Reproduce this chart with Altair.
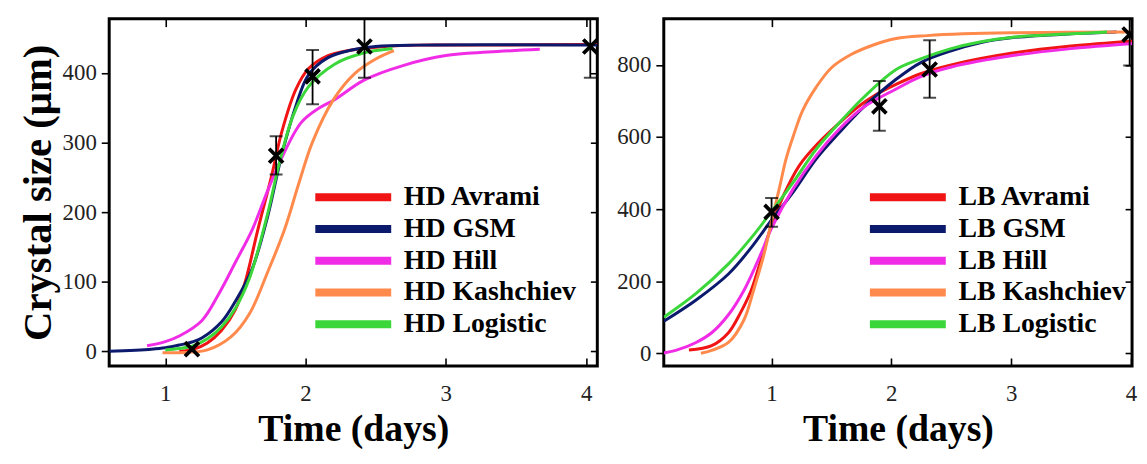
import altair as alt
import pandas as pd

FONT = "Liberation Serif"

# ---------------- common ----------------
x_ticks = [1, 2, 3, 4]
colors = ["#f01414", "#0c1a6e", "#f02ce6", "#ff8a4c", "#3ad63a"]

# ---------------- HD panel ----------------
hd_series = ["HD Avrami", "HD GSM", "HD Hill", "HD Kashchiev", "HD Logistic"]
hd_y_ticks = [0, 100, 200, 300, 400]

hd_avrami_x = [1.10, 1.20, 1.30, 1.40, 1.50, 1.57, 1.66, 1.76, 1.83, 1.93, 2.02, 2.16, 2.33, 2.50, 2.80, 3.20, 4.08]
hd_avrami_y = [0, 3, 12, 30, 60, 100, 175, 254, 315, 376, 406, 425, 433, 437, 440, 440, 441]

hd_gsm_x = [0.60, 0.90, 1.00, 1.10, 1.20, 1.26, 1.40, 1.50, 1.62, 1.73, 1.83, 1.93, 2.02, 2.16, 2.33, 2.50, 2.80, 4.08]
hd_gsm_y = [0, 3, 5, 9, 14, 19, 42, 72, 119, 194, 282, 352, 397, 422, 433, 438, 440, 440]

hd_hill_x = [0.87, 1.00, 1.10, 1.26, 1.38, 1.50, 1.62, 1.73, 1.83, 1.97, 2.10, 2.21, 2.42, 2.70, 3.00, 3.30, 3.67]
hd_hill_y = [8, 14, 22, 44, 82, 128, 175, 231, 278, 329, 350, 362, 390, 411, 425, 430, 434]

hd_kash_x = [0.98, 1.10, 1.30, 1.47, 1.60, 1.73, 1.85, 1.95, 2.05, 2.20, 2.35, 2.50, 2.63]
hd_kash_y = [-2, -2, 2, 21, 54, 114, 175, 240, 301, 362, 399, 420, 432]

hd_logi_x = [1.00, 1.10, 1.20, 1.30, 1.40, 1.50, 1.60, 1.73, 1.81, 1.91, 2.02, 2.21, 2.40, 2.62]
hd_logi_y = [2, 4, 8, 18, 35, 62, 105, 198, 268, 338, 380, 413, 428, 435]

hd_pts_x = [1.19, 1.79, 2.05, 2.42, 4.03]
hd_pts_y = [3, 281, 395, 438, 438]
hd_pts_lo = [3, 254, 355, 393, 393]
hd_pts_hi = [3, 309, 433, 483, 483]

# ---------------- LB panel ----------------
lb_series = ["LB Avrami", "LB GSM", "LB Hill", "LB Kashchiev", "LB Logistic"]
lb_y_ticks = [0, 200, 400, 600, 800]

lb_avrami_x = [0.31, 0.50, 0.64, 0.74, 0.83, 0.91, 1.00, 1.10, 1.23, 1.39, 1.56, 1.72, 1.88, 2.04, 2.25, 2.50, 3.00, 3.50, 4.05]
lb_avrami_y = [9, 21, 57, 112, 175, 257, 356, 438, 520, 583, 637, 683, 719, 746, 776, 800, 832, 852, 867]

lb_gsm_x = [0.10, 0.37, 0.64, 0.83, 1.00, 1.18, 1.37, 1.56, 1.77, 2.04, 2.25, 2.50, 2.75, 3.00, 3.50, 3.88]
lb_gsm_y = [89, 148, 220, 293, 370, 447, 538, 610, 683, 760, 807, 839, 862, 875, 886, 891]

lb_hill_x = [0.10, 0.20, 0.37, 0.50, 0.64, 0.77, 0.91, 1.00, 1.18, 1.37, 1.56, 1.77, 2.04, 2.25, 2.50, 3.00, 3.50, 4.05]
lb_hill_y = [1, 8, 30, 57, 107, 175, 275, 347, 456, 547, 620, 683, 733, 768, 794, 825, 845, 860]

lb_kash_x = [0.41, 0.50, 0.64, 0.77, 0.85, 0.93, 1.00, 1.07, 1.12, 1.18, 1.26, 1.37, 1.50, 1.66, 1.85, 2.04, 2.30, 2.60, 3.00, 4.05]
lb_kash_y = [0, 8, 30, 93, 175, 266, 366, 465, 538, 601, 674, 737, 792, 828, 855, 873, 881, 886, 889, 891]

lb_logi_x = [0.10, 0.37, 0.64, 0.83, 1.00, 1.18, 1.37, 1.56, 1.77, 2.04, 2.25, 2.50, 2.75, 3.00, 3.50, 3.80]
lb_logi_y = [100, 166, 248, 320, 393, 474, 565, 637, 710, 787, 817, 845, 864, 876, 886, 891]

lb_pts_x = [1.00, 1.90, 2.32, 3.99]
lb_pts_y = [392, 685, 787, 884]
lb_pts_lo = [351, 617, 709, 798]
lb_pts_hi = [431, 755, 868, 975]


def curves_df(names, xs_list, ys_list):
    rows = []
    for n, xs, ys in zip(names, xs_list, ys_list):
        for i, (a, b) in enumerate(zip(xs, ys)):
            rows.append({"series": n, "x": a, "y": b, "i": i})
    return pd.DataFrame(rows)


def panel(names, xs_list, ys_list, px, py, plo, phi, xdom, ydom, yticks,
          width, height, ytitle):
    cdf = curves_df(names, xs_list, ys_list)
    pdf = pd.DataFrame({"x": px, "y": py, "lo": plo, "hi": phi})
    edf = pdf[pdf["hi"] > pdf["lo"]]

    xs = alt.Scale(domain=xdom, nice=False, zero=False)
    ys = alt.Scale(domain=ydom, nice=False, zero=False)

    x_bottom = alt.Axis(orient="bottom", values=x_ticks, format="d", domain=False,
                        grid=False, tickSize=8, offset=-8, labelPadding=17,
                        title="Time (days)", titlePadding=5)
    x_top = alt.Axis(orient="top", values=x_ticks, domain=False, grid=False,
                     tickSize=8, offset=-8, labels=False, title=None)
    y_left_kw = dict(orient="left", values=yticks, domain=False, grid=False,
                     tickSize=8, labelPadding=5, titlePadding=3,
                     titleFontSize=41)
    if ytitle:
        y_left = alt.Axis(title=ytitle, **y_left_kw)
    else:
        y_left = alt.Axis(title=None, **y_left_kw)
    y_right = alt.Axis(orient="right", values=yticks, domain=False, grid=False,
                       tickSize=7, offset=-7, labels=False, title=None)

    legend = alt.Legend(orient="none", legendX=232, legendY=166, title=None,
                        symbolType="M-5.1,0H5.1", symbolSize=225,
                        symbolStrokeWidth=8, labelFont=FONT, labelFontSize=28,
                        labelFontWeight="bold", labelColor="black",
                        labelOffset=37, rowPadding=0, padding=0, labelLimit=400)

    lines = alt.Chart(cdf).mark_line(strokeWidth=3, clip=True,
                                     interpolate="catmull-rom").encode(
        x=alt.X("x:Q", scale=xs, axis=x_bottom),
        y=alt.Y("y:Q", scale=ys, axis=y_left),
        color=alt.Color("series:N", sort=names,
                        scale=alt.Scale(domain=names, range=colors),
                        legend=legend),
        order="i:Q",
    )

    bars = alt.Chart(edf).mark_rule(color="black", strokeWidth=1.8, clip=True).encode(
        x=alt.X("x:Q", scale=xs, axis=None),
        y=alt.Y("lo:Q", scale=ys, axis=None),
        y2="hi:Q",
    )
    cap_lo = alt.Chart(edf).mark_tick(color="black", orient="horizontal", size=13,
                                      thickness=2, clip=True).encode(
        x=alt.X("x:Q", scale=xs, axis=None),
        y=alt.Y("lo:Q", scale=ys, axis=None),
    )
    cap_hi = alt.Chart(edf).mark_tick(color="black", orient="horizontal", size=13,
                                      thickness=2, clip=True).encode(
        x=alt.X("x:Q", scale=xs, axis=None),
        y=alt.Y("hi:Q", scale=ys, axis=None),
    )
    marks = alt.Chart(pdf).mark_point(shape="M-1,-1L1,1M-1,1L1,-1", size=200,
                                      strokeWidth=3.8, color="black",
                                      filled=False, opacity=1, clip=True).encode(
        x=alt.X("x:Q", scale=xs, axis=x_top),
        y=alt.Y("y:Q", scale=ys, axis=y_right),
    )

    return alt.layer(lines, bars, cap_lo, cap_hi, marks).resolve_axis(
        x="independent", y="independent"
    ).properties(width=width, height=height)


left = panel(hd_series,
             [hd_avrami_x, hd_gsm_x, hd_hill_x, hd_kash_x, hd_logi_x],
             [hd_avrami_y, hd_gsm_y, hd_hill_y, hd_kash_y, hd_logi_y],
             hd_pts_x, hd_pts_y, hd_pts_lo, hd_pts_hi,
             [0.6, 4.08], [-21, 478], hd_y_ticks, 492, 350,
             "Crystal size (\u03bcm)")

right = panel(lb_series,
              [lb_avrami_x, lb_gsm_x, lb_hill_x, lb_kash_x, lb_logi_x],
              [lb_avrami_y, lb_gsm_y, lb_hill_y, lb_kash_y, lb_logi_y],
              lb_pts_x, lb_pts_y, lb_pts_lo, lb_pts_hi,
              [0.1, 4.01], [-35, 928], lb_y_ticks, 472, 350, None)

chart = alt.hconcat(left, right, spacing=15).resolve_scale(
    color="independent"
).properties(
    padding={"left": 8, "top": 6, "right": 0, "bottom": 0},
    background="white",
).configure_view(
    stroke="black", strokeWidth=3
).configure_axis(
    labelFont=FONT, labelFontSize=23, labelColor="#222222",
    tickColor="black", tickWidth=1.6,
    titleFont=FONT, titleFontSize=38, titleFontWeight="bold", titleColor="black",
)

chart.save("out.html", embed_options={"renderer": "svg", "actions": False})
